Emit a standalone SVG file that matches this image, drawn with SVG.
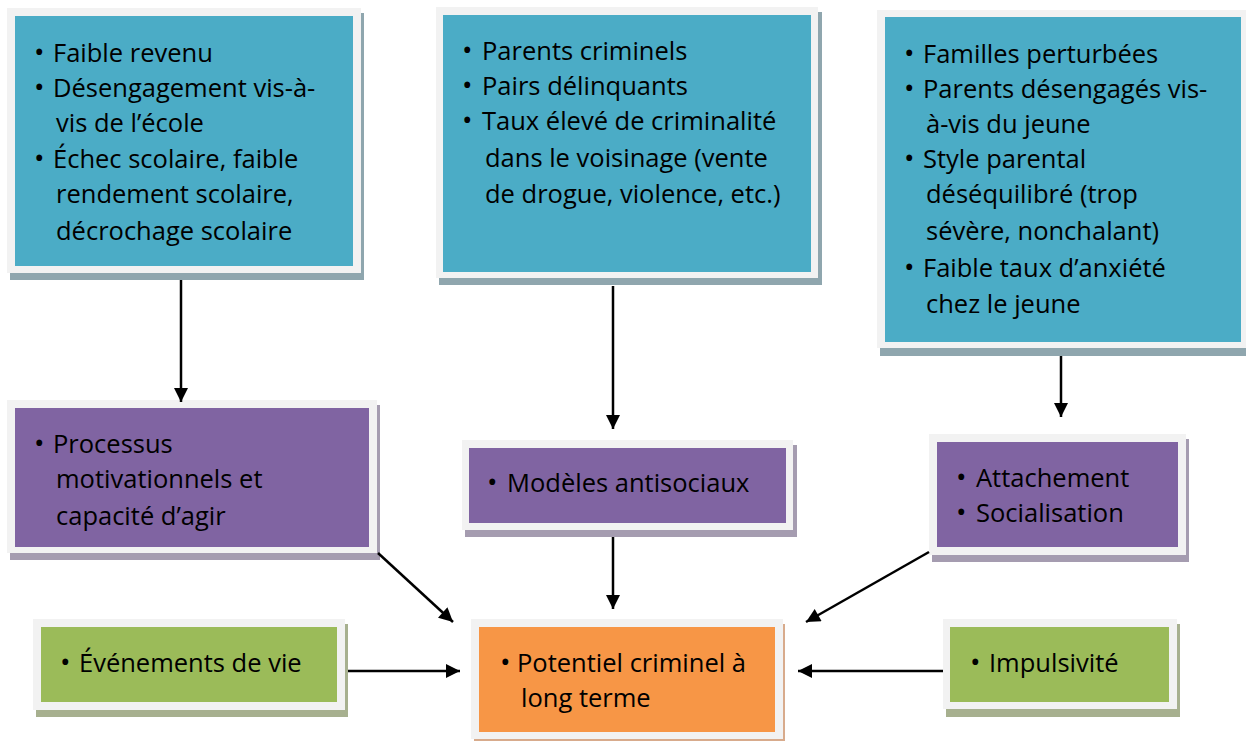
<svg xmlns="http://www.w3.org/2000/svg" width="1246" height="741" viewBox="0 0 1246 741">
<defs>
<marker id="ah" viewBox="0 0 10 10" refX="10" refY="5" markerWidth="15" markerHeight="14" orient="auto" markerUnits="userSpaceOnUse">
<path d="M0,0 L10,5 L0,10 z" fill="#000"/>
</marker>
<style>
.frame{fill:#f2f2f2}
.teal{fill:#4bacc6}
.purple{fill:#8064a2}
.green{fill:#9bbb59}
.orange{fill:#f79646}
.sh-teal{fill:#8fa6ae}
.sh-purple{fill:#a59cb0}
.sh-green{fill:#a7b08f}
.sh-orange{fill:#d8ab8c}
text{font-family:"Open Sans",Lato,"Liberation Sans",sans-serif;font-size:25.5px;fill:#000}
text.b{font-size:28px}
.conn line{stroke:#000;stroke-width:2.5;marker-end:url(#ah)}
</style>
</defs>
<rect width="1246" height="741" fill="#fff"/>

<g id="box-economic">
<rect class="sh-teal" x="10" y="13" width="354" height="267"/>
<rect class="frame" x="7" y="8" width="354" height="265"/>
<rect class="teal" x="15" y="16" width="338" height="250"/>
<text class="b" x="34" y="62">•</text><text x="53" y="62">Faible revenu</text>
<text class="b" x="34" y="97">•</text><text x="53" y="97">Désengagement vis-à-</text>
<text x="56" y="132">vis de l’école</text>
<text class="b" x="34" y="168">•</text><text x="53" y="168">Échec scolaire, faible</text>
<text x="56" y="203">rendement scolaire,</text>
<text x="56" y="240">décrochage scolaire</text>
</g>

<g id="box-social">
<rect class="sh-teal" x="439" y="12" width="383" height="273"/>
<rect class="frame" x="436" y="7" width="382" height="271"/>
<rect class="teal" x="443" y="15" width="368" height="257"/>
<text class="b" x="462" y="60">•</text><text x="482" y="60">Parents criminels</text>
<text class="b" x="462" y="95">•</text><text x="482" y="95">Pairs délinquants</text>
<text class="b" x="462" y="130">•</text><text x="482" y="130">Taux élevé de criminalité</text>
<text x="485" y="167">dans le voisinage (vente</text>
<text x="485" y="203">de drogue, violence, etc.)</text>
</g>

<g id="box-family">
<rect class="sh-teal" x="880" y="15" width="370" height="341"/>
<rect class="frame" x="877" y="10" width="372" height="338"/>
<rect class="teal" x="885" y="17" width="356" height="325"/>
<text class="b" x="904" y="63">•</text><text x="923" y="63">Familles perturbées</text>
<text class="b" x="904" y="98">•</text><text x="923" y="98">Parents désengagés vis-</text>
<text x="926" y="133">à-vis du jeune</text>
<text class="b" x="904" y="168">•</text><text x="923" y="168">Style parental</text>
<text x="926" y="203">déséquilibré (trop</text>
<text x="926" y="240">sévère, nonchalant)</text>
<text class="b" x="904" y="277">•</text><text x="923" y="277">Faible taux d’anxiété</text>
<text x="926" y="313">chez le jeune</text>
</g>

<g id="box-motivation">
<rect class="sh-purple" x="10" y="405" width="370" height="155"/>
<rect class="frame" x="7" y="400" width="370" height="153"/>
<rect class="purple" x="15" y="408" width="354" height="139"/>
<text class="b" x="34" y="453">•</text><text x="53" y="453">Processus</text>
<text x="56" y="488">motivationnels et</text>
<text x="56" y="525">capacité d’agir</text>
</g>

<g id="box-models">
<rect class="sh-purple" x="465" y="445" width="332" height="92"/>
<rect class="frame" x="462" y="440" width="331" height="90"/>
<rect class="purple" x="469" y="448" width="317" height="75"/>
<text class="b" x="487" y="492">•</text><text x="507" y="492">Modèles antisociaux</text>
</g>

<g id="box-attachment">
<rect class="sh-purple" x="932" y="439" width="257" height="123"/>
<rect class="frame" x="929" y="434" width="257" height="121"/>
<rect class="purple" x="937" y="442" width="241" height="105"/>
<text class="b" x="956" y="487">•</text><text x="976" y="487">Attachement</text>
<text class="b" x="956" y="522">•</text><text x="976" y="522">Socialisation</text>
</g>

<g id="box-events">
<rect class="sh-green" x="36" y="624" width="312" height="93"/>
<rect class="frame" x="33" y="619" width="312" height="91"/>
<rect class="green" x="41" y="627" width="296" height="75"/>
<text class="b" x="60" y="672">•</text><text x="79" y="672">Événements de vie</text>
</g>

<g id="box-potential">
<rect class="sh-orange" x="474" y="624" width="311" height="120"/>
<rect class="frame" x="471" y="619" width="312" height="120"/>
<rect class="orange" x="479" y="627" width="296" height="105"/>
<text class="b" x="500" y="672">•</text><text x="517" y="672">Potentiel criminel à</text>
<text x="521" y="707">long terme</text>
</g>

<g id="box-impulsivity">
<rect class="sh-green" x="946" y="624" width="234" height="93"/>
<rect class="frame" x="943" y="619" width="234" height="90"/>
<rect class="green" x="950" y="627" width="219" height="75"/>
<text class="b" x="970" y="672">•</text><text x="989" y="672">Impulsivité</text>
</g>

<g id="connectors" class="conn">
<line x1="181" y1="280" x2="181" y2="402"/>
<line x1="613" y1="286" x2="613" y2="429"/>
<line x1="1061" y1="356" x2="1061" y2="417"/>
<line x1="378" y1="553" x2="453" y2="622"/>
<line x1="613" y1="537" x2="613" y2="609"/>
<line x1="929" y1="552" x2="806" y2="622"/>
<line x1="348" y1="671" x2="460" y2="671"/>
<line x1="943" y1="671" x2="798" y2="671"/>
</g>
</svg>
